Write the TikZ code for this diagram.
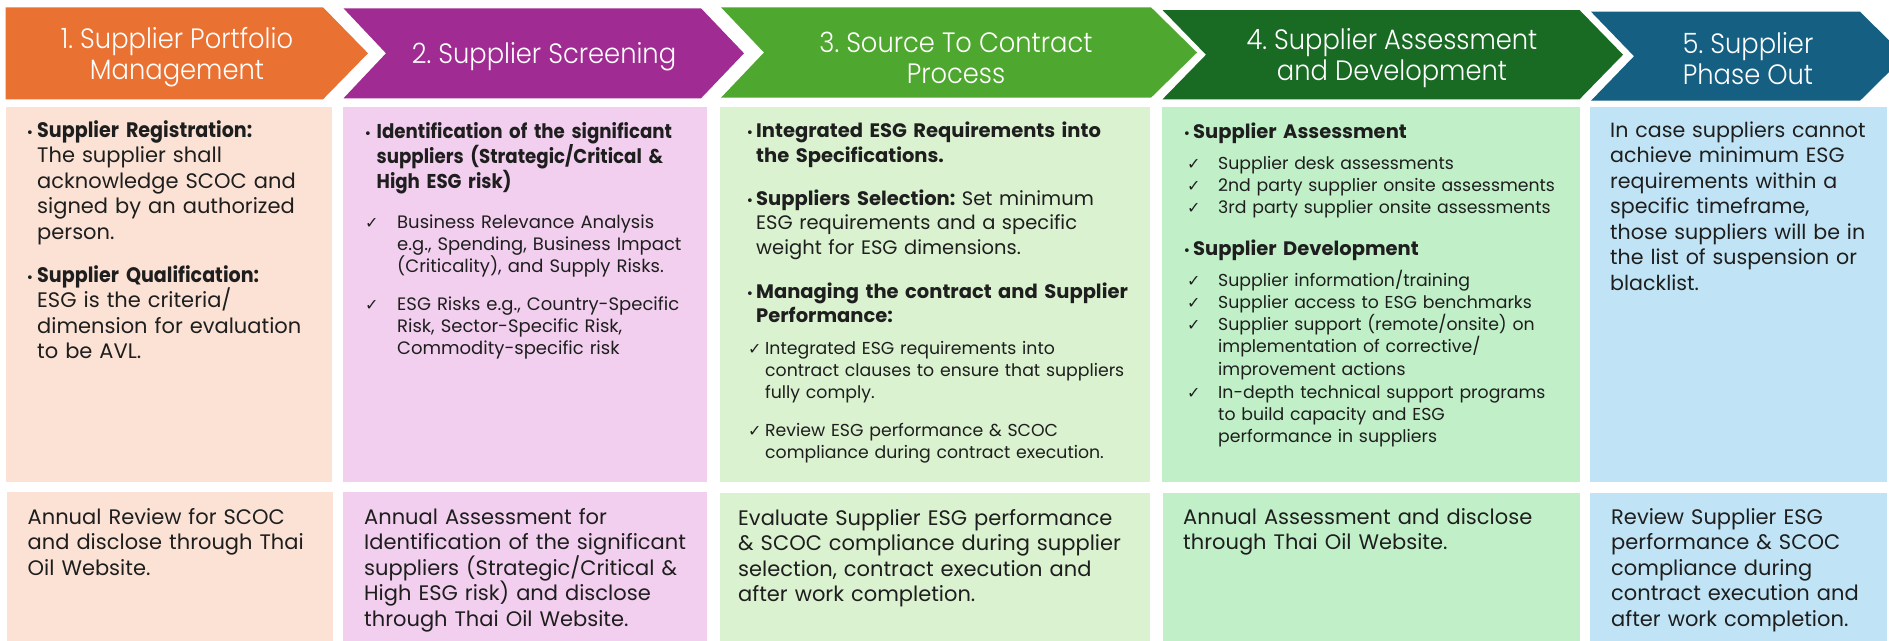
\documentclass[tikz,border=0pt]{standalone}
\usepackage{fontspec}
\setmainfont{Poppins}
\newfontfamily\hdrfont[FakeStretch=0.92]{Poppins Light}
\newfontfamily\condfont[FakeStretch=0.91]{Poppins}
\newfontfamily\symfont{DejaVu Sans}
\definecolor{cOrange}{HTML}{E97132}
\definecolor{cPurple}{HTML}{A02B93}
\definecolor{cGreen}{HTML}{4EA72E}
\definecolor{cDkGreen}{HTML}{196B24}
\definecolor{cBlue}{HTML}{156082}
\definecolor{lOrange}{HTML}{FBE2D5}
\definecolor{lPurple}{HTML}{F2CFEE}
\definecolor{lGreen}{HTML}{DAF2D0}
\definecolor{lDkGreen}{HTML}{C1F0C8}
\definecolor{lBlue}{HTML}{C0E4F5}
\definecolor{txtcol}{HTML}{1E1E1E}
\newcommand\fBig{\fontsize{21}{25.5}\selectfont}
\newcommand\fCol{\fontsize{20.6}{25.5}\selectfont}
\newcommand\fMid{\fontsize{19.5}{24.6}\selectfont}
\newcommand\fHead{\fontsize{20}{25}\selectfont}
\newcommand\fSm{\fontsize{17.3}{22.4}\selectfont}
\newcommand\cb[1]{{\condfont\bfseries #1}}
\frenchspacing
\hyphenpenalty=10000
\exhyphenpenalty=10000
\tikzset{
  hdrtext/.style={text=white,font=\hdrfont\fontsize{28}{31}\selectfont,align=center,inner sep=0pt},
  body/.style={anchor=base west,inner sep=0pt,align=left,text width=#1,text=txtcol},
  bul/.style={anchor=base west,inner sep=0pt,text=txtcol,font=\symfont\fontsize{13}{13}\selectfont},
  chk/.style={anchor=base west,inner sep=0pt,text=txtcol,font=\symfont\fontsize{16}{16}\selectfont},
}
\begin{document}
\begin{tikzpicture}[x=1pt,y=-1pt]
\useasboundingbox (0,0) rectangle (1889,640);
\fill[white] (0,0) rectangle (1889,640);
% ---- header chevrons
\fill[cOrange] (5.7,7.3) -- (323,7.3) -- (368,53.3) -- (323,99.3) -- (5.7,99.3) -- cycle;
\fill[cPurple] (343.5,8.3) -- (701,8.3) -- (744,53.3) -- (701,98.3) -- (343.5,98.3) -- (386,53.3) -- cycle;
\fill[cGreen] (721,7.3) -- (1151,7.3) -- (1197,52.5) -- (1151,97.7) -- (721,97.7) -- (764,52.5) -- cycle;
\fill[cDkGreen] (1162.5,10) -- (1579.5,10) -- (1623,54.7) -- (1579.5,99.3) -- (1162.5,99.3) -- (1206,54.7) -- cycle;
\begin{scope}
\clip (0,0) rectangle (1889,640);
\fill[cBlue] (1591,11.7) -- (1860,11.7) -- (1905,56.2) -- (1860,100.7) -- (1591,100.7) -- (1634,56.2) -- cycle;
% ---- boxes
\fill[lOrange] (6,107) rectangle (332,482);
\fill[lPurple] (343,107) rectangle (707,482);
\fill[lGreen] (720,107) rectangle (1150,482);
\fill[lDkGreen] (1162,107) rectangle (1580,482);
\fill[lBlue] (1590,107) rectangle (1887,482);
\fill[lOrange] (7,492) rectangle (333,650);
\fill[lPurple] (343,492) rectangle (707,650);
\fill[lGreen] (720,493) rectangle (1150,650);
\fill[lDkGreen] (1163,493) rectangle (1580,650);
\fill[lBlue] (1590,493) rectangle (1887,650);
\end{scope}
% ---- header texts
\node[hdrtext] (h1) at (177,57.5) {1. Supplier Portfolio\\Management};
\node[hdrtext] (h2) at (544,57) {2. Supplier Screening};
\node[hdrtext] (h3) at (956,57.5) {3. Source To Contract\\Process};
\node[hdrtext] (h4) at (1392,58) {4. Supplier Assessment\\and Development};
\node[hdrtext] (h5) at (1748,58.5) {5. Supplier\\Phase Out};
% ---- column 1
\node[bul] (b1a) at (26,137) {•};
\node[body=290pt,font=\fBig] (t1a) at (37,137) {\cb{Supplier Registration:}\\The supplier shall\\acknowledge SCOC and\\signed by an authorized\\person.};
\node[bul] (b1b) at (26,282) {•};
\node[body=290pt,font=\fBig] (t1b) at (37,282) {\cb{Supplier Qualification:}\\ESG is the criteria/\\dimension for evaluation\\to be AVL.};
% ---- column 2
\node[bul] (b2a) at (364,138) {•};
\node[body=325pt,font=\fHead] (t2a) at (376.5,138) {\cb{Identification of the significant}\\\cb{suppliers (Strategic/Critical \&}\\\cb{High ESG risk)}};
\node[chk] (c2a) at (365,228) {✓};
\node[body=300pt,font=\fSm\fontsize{18}{22.4}\selectfont] (t2b) at (397,228) {Business Relevance Analysis\\e.g., Spending, Business Impact\\(Criticality), and Supply Risks.};
\node[chk] (c2b) at (365,310) {✓};
\node[body=300pt,font=\fSm\fontsize{18}{22.4}\selectfont] (t2c) at (397,310) {ESG Risks e.g., Country-Specific\\Risk, Sector-Specific Risk,\\Commodity-specific risk};
% ---- column 3
\node[bul] (b3a) at (746,137.5) {•};
\node[body=390pt,font=\fMid] (t3a) at (756,137.5) {\textbf{Integrated ESG Requirements into}\\\textbf{the Specifications.}};
\node[bul] (b3b) at (746,205) {•};
\node[body=390pt,font=\fMid] (t3b) at (756,205) {\textbf{Suppliers Selection:} Set minimum\\ESG requirements and a specific\\weight for ESG dimensions.};
\node[bul] (b3c) at (746,298) {•};
\node[body=390pt,font=\fMid] (t3c) at (756,298) {\textbf{Managing the contract and Supplier}\\\textbf{Performance:}};
\node[chk] (c3a) at (748,354) {✓};
\node[body=380pt,font=\fSm] (t3d) at (765,354) {Integrated ESG requirements into\\contract clauses to ensure that suppliers\\fully comply.};
\node[chk] (c3b) at (748,436) {✓};
\node[body=380pt,font=\fSm] (t3e) at (765,436) {Review ESG performance \& SCOC\\compliance during contract execution.};
% ---- column 4
\node[bul] (b4a) at (1183,138.5) {•};
\node[body=380pt,font=\fMid] (t4a) at (1193,138.5) {\textbf{Supplier Assessment}};
\node[chk] (c4a) at (1187,169) {✓};
\node[body=360pt,font=\fSm] (t4b) at (1218,169) {Supplier desk assessments};
\node[chk] (c4b) at (1187,191) {✓};
\node[body=360pt,font=\fSm] (t4c) at (1218,191) {2nd party supplier onsite assessments};
\node[chk] (c4c) at (1187,213.5) {✓};
\node[body=360pt,font=\fSm] (t4d) at (1218,213.5) {3rd party supplier onsite assessments};
\node[bul] (b4b) at (1183,255) {•};
\node[body=380pt,font=\fMid] (t4e) at (1193,255) {\textbf{Supplier Development}};
\node[chk] (c4d) at (1187,286) {✓};
\node[body=360pt,font=\fSm] (t4f) at (1218,286) {Supplier information/training};
\node[chk] (c4e) at (1187,308) {✓};
\node[body=360pt,font=\fSm] (t4g) at (1218,308) {Supplier access to ESG benchmarks};
\node[chk] (c4f) at (1187,330.5) {✓};
\node[body=360pt,font=\fSm] (t4h) at (1218,330.5) {Supplier support (remote/onsite) on\\implementation of corrective/\\improvement actions};
\node[chk] (c4g) at (1187,398) {✓};
\node[body=360pt,font=\fSm] (t4i) at (1218,398) {In-depth technical support programs\\to build capacity and ESG\\performance in suppliers};
% ---- column 5
\node[body=275pt,font=\fCol] (t5a) at (1610,137) {In case suppliers cannot\\achieve minimum ESG\\requirements within a\\specific timeframe,\\those suppliers will be in\\the list of suspension or\\blacklist.};
% ---- row 2
\node[body=300pt,font=\fBig] (r1) at (27.5,524) {Annual Review for SCOC\\and disclose through Thai\\Oil Website.};
\node[body=340pt,font=\fBig] (r2) at (364,524) {Annual Assessment for\\Identification of the significant\\suppliers (Strategic/Critical \&\\High ESG risk) and disclose\\through Thai Oil Website.};
\node[body=400pt,font=\fBig] (r3) at (738,525) {Evaluate Supplier ESG performance\\\& SCOC compliance during supplier\\selection, contract execution and\\after work completion.};
\node[body=390pt,font=\fBig] (r4) at (1183,524) {Annual Assessment and disclose\\through Thai Oil Website.};
\node[body=275pt,font=\fBig] (r5) at (1611,524) {Review Supplier ESG\\performance \& SCOC\\compliance during\\contract execution and\\after work completion.};
\end{tikzpicture}
\end{document}
